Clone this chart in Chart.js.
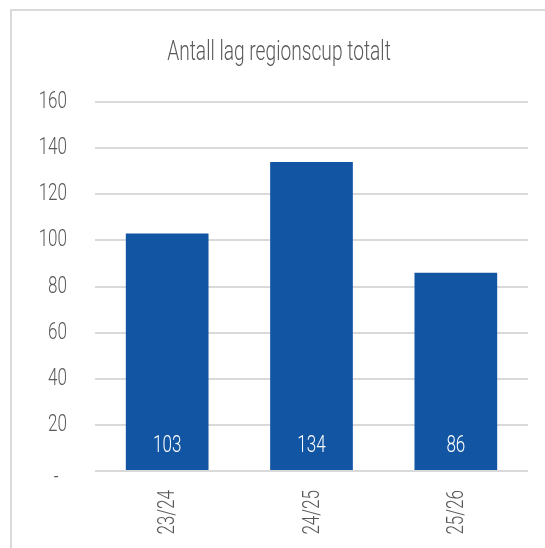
<!DOCTYPE html>
<html lang="no">
  <head>
    <meta charset="UTF-8" />
    <title>Antall lag regionscup totalt</title>
    <script src="https://cdn.jsdelivr.net/npm/chart.js"></script>
    <style>
      html, body { margin: 0; padding: 0; background: #fff; overflow: hidden; }
      .wrap { position: relative; width: 545px; height: 548px; }
      .frame {
        position: absolute; left: 10px; top: 9px; width: 600px; height: 600px;
        border: 2px solid #d9d9d9;
      }
      canvas { position: absolute; left: 0; top: 0; }
    </style>
  </head>
  <body>
    <div class="wrap">
      <div class="frame"></div>
      <canvas id="lagChart" width="545" height="548"></canvas>
    </div>

    <script>
      const seasons = ["23/24", "24/25", "25/26"];
      const teamCounts = [103, 134, 86];
      const yTicks = [0, 20, 40, 60, 80, 100, 120, 140, 160];
      const titleText = "Antall lag regionscup totalt";

      const fontFamily = "Roboto, sans-serif";
      const fontWeight = 300;
      const squeeze = 0.71; // ingen smal skrift installert, så vi klemmer teksten
      const textColor = "#595959";

      function narrowText(ctx, text, x, y, opts) {
        ctx.save();
        ctx.translate(x, y);
        if (opts.rotate) ctx.rotate(opts.rotate);
        ctx.scale(squeeze, 1);
        ctx.font = fontWeight + " " + opts.size + "px " + fontFamily;
        ctx.fillStyle = opts.color || textColor;
        ctx.textAlign = opts.align || "center";
        ctx.textBaseline = opts.baseline || "middle";
        ctx.fillText(text, 0, 0);
        ctx.restore();
      }

      // tittel, akseetiketter og verdier tegnes her
      const narrowLabels = {
        id: "narrowLabels",
        afterDraw(chart) {
          const ctx = chart.ctx;
          const xs = chart.scales.x;
          const ys = chart.scales.y;

          narrowText(ctx, titleText, 279, 60, { size: 27, baseline: "alphabetic" });

          ys.ticks.forEach((t) => {
            const y = ys.getPixelForValue(t.value);
            if (t.value === 0) {
              // Excel-formatet viser null som en strek litt lavere
              narrowText(ctx, "-  ", ys.right - 28, y + 7, { size: 24, align: "right" });
            } else {
              narrowText(ctx, String(t.value), ys.right - 28, y, { size: 24, align: "right" });
            }
          });

          seasons.forEach((s, i) => {
            narrowText(ctx, s, xs.getPixelForTick(i) + 1, xs.top + 19, {
              size: 24,
              align: "right",
              rotate: -Math.PI / 2,
            });
          });

          const meta = chart.getDatasetMeta(0);
          meta.data.forEach((bar, i) => {
            narrowText(ctx, String(teamCounts[i]), bar.x, bar.base - 24, {
              size: 24,
              color: "#ffffff",
            });
          });
        },
      };

      new Chart(document.getElementById("lagChart"), {
        type: "bar",
        data: {
          labels: seasons,
          datasets: [
            {
              data: teamCounts,
              backgroundColor: "#1155a3",
              categoryPercentage: 0.573,
              barPercentage: 1,
            },
          ],
        },
        options: {
          responsive: false,
          animation: false,
          layout: { padding: { left: 0, right: 17, top: 102, bottom: 0 } },
          plugins: {
            legend: { display: false },
            tooltip: { enabled: false },
            title: { display: false },
          },
          scales: {
            x: {
              grid: { display: false },
              border: { display: false },
              ticks: { display: false },
              afterFit(scale) { scale.height = 77; },
            },
            y: {
              min: 0,
              max: 160,
              afterBuildTicks(scale) {
                scale.ticks = yTicks.map((v) => ({ value: v }));
              },
              grid: { color: "#d9d9d9", lineWidth: 2, drawTicks: false },
              border: { display: false },
              ticks: { display: false },
              afterFit(scale) { scale.width = 95; },
            },
          },
        },
        plugins: [narrowLabels],
      });
    </script>
  </body>
</html>
